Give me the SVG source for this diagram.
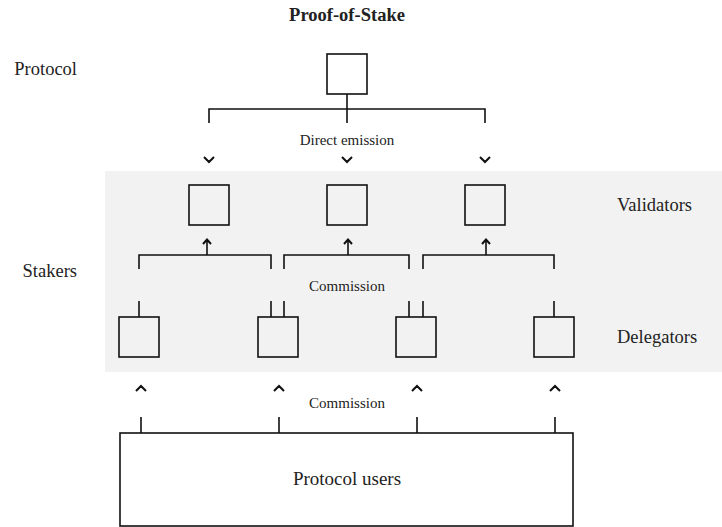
<svg xmlns="http://www.w3.org/2000/svg" width="722" height="527" viewBox="0 0 722 527" font-family="'Liberation Serif', 'DejaVu Serif', serif">
<style>
.box{fill:none;stroke:#111;stroke-width:1.6}
.ln{fill:none;stroke:#111;stroke-width:1.6}
.chev{fill:none;stroke:#111;stroke-width:2}
.t{font-family:'Liberation Serif','DejaVu Serif',serif;fill:#222}
.lbl{font-size:18.5px}
.sm{font-size:15px;text-anchor:middle}
.title{font-size:18.5px;font-weight:bold;text-anchor:middle}
</style>
<rect x="0" y="0" width="722" height="527" fill="#fff"/>
<rect id="stakers-band" x="105" y="171" width="617" height="201" fill="#f2f2f2"/>
<text class="t title" x="347" y="21">Proof-of-Stake</text>
<text class="t lbl" x="77" y="75" text-anchor="end">Protocol</text>
<text class="t lbl" x="77" y="277" text-anchor="end">Stakers</text>
<text class="t lbl" x="617" y="211">Validators</text>
<text class="t lbl" x="617" y="343">Delegators</text>
<g id="protocol"><rect class="box" x="327" y="54" width="40" height="40"/></g>
<g id="validator1"><rect class="box" x="189" y="185" width="40" height="40"/></g>
<g id="validator2"><rect class="box" x="327" y="185" width="40" height="40"/></g>
<g id="validator3"><rect class="box" x="465" y="185" width="40" height="40"/></g>
<g id="delegator1"><rect class="box" x="119" y="317" width="40" height="40"/></g>
<g id="delegator2"><rect class="box" x="258" y="317" width="40" height="40"/></g>
<g id="delegator3"><rect class="box" x="396" y="317" width="40" height="40"/></g>
<g id="delegator4"><rect class="box" x="534" y="317" width="40" height="40"/></g>
<g id="protocol-users"><rect class="box" x="120" y="433" width="453" height="93"/><text class="t" x="347" y="485" font-size="19" text-anchor="middle">Protocol users</text></g>
<g id="connectors">
<path class="ln" d="M347,94V123M209,123V109H485V123"/>
<path class="chev" d="M204,157L209,162L214,157M342,157L347,162L352,157M480,157L485,162L490,157"/>
<text class="t sm" x="347" y="145">Direct emission</text>
<path class="ln" d="M139,269V255H271V269M207,255V240M284,269V255H409V269M348,255V240M423,269V255H554V269M486,255V240"/>
<path class="chev" d="M203,244L207,239.5L211,244M344,244L348,239.5L352,244M482,244L486,239.5L490,244"/>
<text class="t sm" x="347" y="291">Commission</text>
<path class="ln" d="M139,301V317M271,301V317M284,301V317M409,301V317M423,301V317M554,301V317"/>
<path class="chev" d="M136,391L141,386L146,391M274,391L279,386L284,391M412,391L417,386L422,391M550,391L555,386L560,391"/>
<text class="t sm" x="347" y="408">Commission</text>
<path class="ln" d="M141,417V433M279,417V433M417,417V433M555,417V433"/>
</g>
</svg>
